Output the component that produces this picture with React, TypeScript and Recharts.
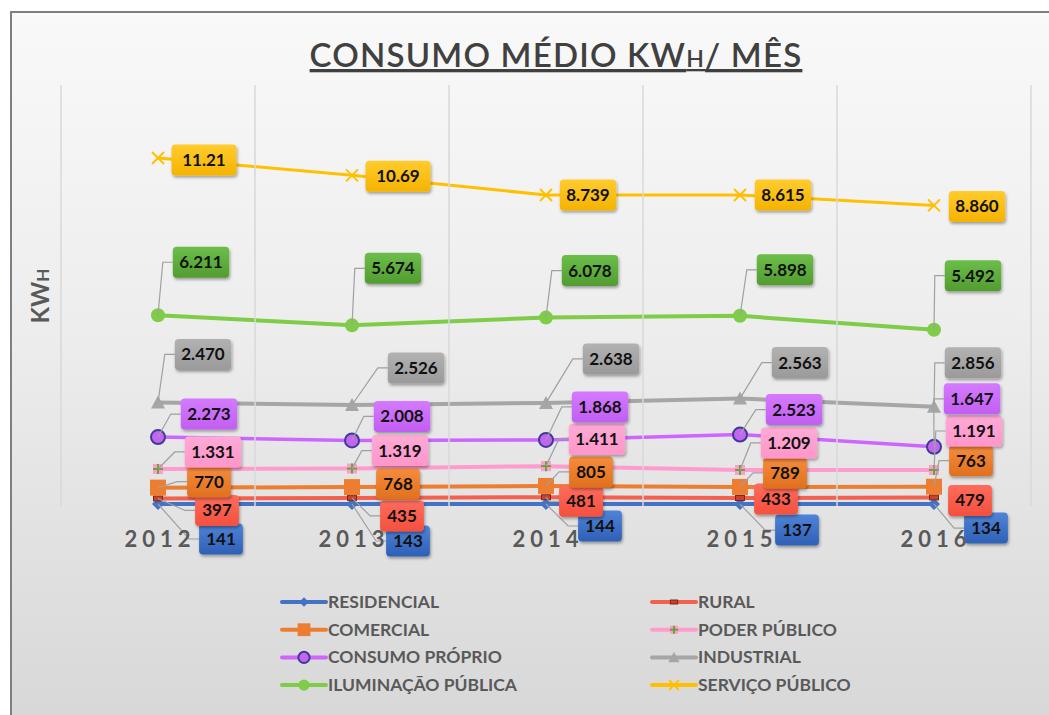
import React from 'react';
import { ComposedChart, Area, XAxis, YAxis, ReferenceLine } from 'recharts';

const years = ['2012', '2013', '2014', '2015', '2016'];
const residencial = [141, 143, 144, 137, 134];
const rural = [397, 435, 481, 433, 479];
const comercial = [770, 768, 805, 789, 763];
const poderPublico = [1331, 1319, 1411, 1209, 1191];
const consumoProprio = [2273, 2008, 1868, 2523, 1647];
const industrial = [2470, 2526, 2638, 2563, 2856];
const iluminacao = [6211, 5674, 6078, 5898, 5492];
const servico = [11210, 10690, 8739, 8615, 8860];

const W = 1049;
const H = 715;
const FONT = 'Lato, "Open Sans", sans-serif';

type Shape = 'diamond' | 'dash' | 'square' | 'plus' | 'ring' | 'triangle' | 'dot' | 'cross';

// stacking order, bottom to top (Excel stacked line)
const series: { key: string; name: string; values: number[] }[] = [
  { key: 'residencial', name: 'RESIDENCIAL', values: residencial },
  { key: 'rural', name: 'RURAL', values: rural },
  { key: 'comercial', name: 'COMERCIAL', values: comercial },
  { key: 'poder', name: 'PODER PÚBLICO', values: poderPublico },
  { key: 'consumo', name: 'CONSUMO PRÓPRIO', values: consumoProprio },
  { key: 'industrial', name: 'INDUSTRIAL', values: industrial },
  { key: 'iluminacao', name: 'ILUMINAÇÃO PÚBLICA', values: iluminacao },
  { key: 'servico', name: 'SERVIÇO PÚBLICO', values: servico },
];

const styles: Record<string, { line: string; width: number; shape: Shape; top: string; bottom: string }> = {
  residencial: { line: '#4472c4', width: 4, shape: 'diamond', top: '#4f84d8', bottom: '#2e60b6' },
  rural: { line: '#f4604e', width: 4, shape: 'dash', top: '#ff6c5c', bottom: '#f4503e' },
  comercial: { line: '#ed7d31', width: 4, shape: 'square', top: '#f68c3c', bottom: '#e0701e' },
  poder: { line: '#ff9ccd', width: 4, shape: 'plus', top: '#ffaad6', bottom: '#ff96c9' },
  consumo: { line: '#cc66ff', width: 3.5, shape: 'ring', top: '#d47aff', bottom: '#c25ef2' },
  industrial: { line: '#a6a6a6', width: 4, shape: 'triangle', top: '#b2b2b2', bottom: '#9a9a9a' },
  iluminacao: { line: '#7ecc48', width: 4, shape: 'dot', top: '#6cbe4a', bottom: '#529c30' },
  servico: { line: '#ffc000', width: 3, shape: 'cross', top: '#ffcc2e', bottom: '#f5b300' },
};

// label box centre, relative to its point (dx, dy) per year
const labelOffsets: Record<string, number[][]> = {
  residencial: [[63, 35], [56, 37], [54, 22], [57, 26], [52, 24]],
  rural: [[59, 12], [50, 18], [35, 4], [36, 1], [36, 3]],
  comercial: [[51, -6], [46, -3], [45, -14], [45, -14], [37, -26]],
  poder: [[55, -17], [48, -18], [51, -27], [49, -27], [40, -39]],
  consumo: [[51, -23], [50, -24], [54, -33], [54, -25], [38, -48]],
  industrial: [[45, -48], [64, -37], [65, -44], [60, -36], [39, -44]],
  iluminacao: [[43, -53], [41, -57], [44, -47], [45, -46], [39, -54]],
  servico: [[46, 2], [46, 1], [42, 0], [43, 0], [43, 1]],
};

const rows = years.map((year, i) => {
  const row: Record<string, number | string> = { idx: i, year };
  series.forEach((s) => (row[s.key] = s.values[i]));
  return row;
});

const fmt = (v: number) => {
  const s = String(v);
  return s.length > 3 ? s.slice(0, s.length - 3) + '.' + s.slice(-3) : s;
};

const textWidth = (s: string) => s.split('').reduce((w, c) => w + (c === '.' ? 4 : 8.6), 0);

const Marker = ({ shape, x, y, k = 1 }: { shape: Shape; x: number; y: number; k?: number }) => {
  switch (shape) {
    case 'diamond':
      return <polygon points={`${x},${y - 6 * k} ${x + 6 * k},${y} ${x},${y + 6 * k} ${x - 6 * k},${y}`} fill="#4472c4" />;
    case 'dash':
      return <rect x={x - 4.5 * k} y={y - 2.5 * k} width={9 * k} height={5 * k} fill="#c8402e" stroke="#7a2a14" strokeWidth={1} />;
    case 'square':
      return <rect x={x - 8 * k} y={y - 8 * k} width={16 * k} height={16 * k} fill="#ed7d31" />;
    case 'plus':
      return (
        <g>
          <rect x={x - 5 * k} y={y - 5 * k} width={10 * k} height={10 * k} fill="#ff9ccd" />
          <line x1={x - 5 * k} y1={y} x2={x + 5 * k} y2={y} stroke="#5aa52e" strokeWidth={1.8} />
          <line x1={x} y1={y - 5 * k} x2={x} y2={y + 5 * k} stroke="#5aa52e" strokeWidth={1.8} />
        </g>
      );
    case 'ring':
      return <circle cx={x} cy={y} r={7 * k} fill="#c266f0" stroke="#3c3c96" strokeWidth={2} />;
    case 'triangle':
      return <polygon points={`${x},${y - 7 * k} ${x + 7 * k},${y + 6 * k} ${x - 7 * k},${y + 6 * k}`} fill="#a6a6a6" />;
    case 'dot':
      return <circle cx={x} cy={y} r={7 * k} fill="#7ecc48" />;
    case 'cross':
      return (
        <g stroke="#ffc000" strokeWidth={2}>
          <line x1={x - 6 * k} y1={y - 6 * k} x2={x + 6 * k} y2={y + 6 * k} />
          <line x1={x - 6 * k} y1={y + 6 * k} x2={x + 6 * k} y2={y - 6 * k} />
        </g>
      );
  }
  return null;
};

const markerDot = (key: string) => (p: any) => (
  <g key={`m-${key}-${p.index}`}>
    {p.cx != null && p.cy != null ? <Marker shape={styles[key].shape} x={p.cx} y={p.cy} /> : null}
  </g>
);

const labelDot = (key: string, values: number[]) => (p: any) => {
  const { cx, cy, index } = p;
  if (cx == null || cy == null) return <g key={`l-${key}-${index}`} />;
  const full = fmt(values[index]);
  const shown = full.slice(0, 5); // Excel clips "11.210" to "11.21"
  const [dx, dy] = labelOffsets[key][index];
  const w = textWidth(full) + 18;
  const h = 31;
  const bx = cx + dx;
  const by = cy + dy;
  const left = bx - w / 2;
  return (
    <g key={`l-${key}-${index}`}>
      {Math.abs(dy) > 3 ? (
        <polyline
          points={`${cx},${cy} ${left - 10},${by} ${left},${by}`}
          fill="none"
          stroke="#a0a0a0"
          strokeWidth={1.2}
        />
      ) : null}
      <rect x={left} y={by - h / 2} width={w} height={h} rx={4} fill={`url(#box-${key})`} filter="url(#lblShadow)" />
      <text x={bx} y={by + 6} textAnchor="middle" fontFamily={FONT} fontWeight={700} fontSize={17} fill="#111">
        {shown}
      </text>
    </g>
  );
};

const YearTick = (p: any) => (
  <text
    x={p.x + 2}
    y={p.y + 41}
    textAnchor="middle"
    fontFamily={FONT}
    fontWeight={700}
    fontSize={22}
    letterSpacing={5}
    fill="#595959"
  >
    {years[p.payload.value]}
  </text>
);

const Legend = () => {
  const cols = [282, 652];
  return (
    <g>
      {series.map((s, i) => {
        const x0 = cols[i % 2];
        const y = 602 + Math.floor(i / 2) * 27.7;
        const st = styles[s.key];
        return (
          <g key={s.key}>
            <line x1={x0} y1={y} x2={x0 + 44} y2={y} stroke={st.line} strokeWidth={4} strokeLinecap="round" />
            <Marker shape={st.shape} x={x0 + 22} y={y} k={0.8} />
            <text x={x0 + 46} y={y + 6} fontFamily={FONT} fontWeight={700} fontSize={17.5} fill="#595959">
              {s.name}
            </text>
          </g>
        );
      })}
    </g>
  );
};

export default function App() {
  return (
    <div style={{ position: 'absolute', left: 0, top: 0, width: W, height: H, background: '#fff', overflow: 'hidden' }}>
      <div
        style={{
          position: 'absolute',
          left: 10,
          top: 11,
          width: W - 10,
          height: H - 11,
          boxSizing: 'border-box',
          borderTop: '2px solid #7f7f7f',
          borderLeft: '2px solid #7f7f7f',
          background: 'linear-gradient(#f9f9f9 0%, #ededed 45%, #d8d8d8 100%)',
        }}
      />
      <div style={{ position: 'absolute', left: 0, top: 0 }}>
        <ComposedChart width={W} height={H} data={rows} margin={{ top: 85, right: 18, bottom: 179, left: 61 }}>
          <defs>
            <filter id="lblShadow" x="-20%" y="-20%" width="150%" height="160%">
              <feDropShadow dx={1} dy={2} stdDeviation={1.5} floodColor="#000" floodOpacity={0.35} />
            </filter>
            {series.map((s) => (
              <linearGradient key={s.key} id={`box-${s.key}`} x1="0" y1="0" x2="0" y2="1">
                <stop offset="0%" stopColor={styles[s.key].top} />
                <stop offset="100%" stopColor={styles[s.key].bottom} />
              </linearGradient>
            ))}
          </defs>
          <XAxis
            type="number"
            dataKey="idx"
            domain={[-0.5, 4.5]}
            ticks={[0, 1, 2, 3, 4]}
            tick={<YearTick />}
            tickLine={false}
            axisLine={false}
            tickSize={0}
            tickMargin={0}
            height={30}
          />
          <YAxis type="number" domain={[0, 30000]} hide />
          {[-0.5, 0.5, 1.5, 2.5, 3.5, 4.5].map((x) => (
            <ReferenceLine key={x} x={x} stroke="#d9d9d9" strokeWidth={1.5} />
          ))}
          {series.map((s) => (
            <Area
              key={s.key}
              type="linear"
              dataKey={s.key}
              stackId="lines"
              stroke={styles[s.key].line}
              strokeWidth={styles[s.key].width}
              fill="none"
              dot={markerDot(s.key)}
              activeDot={false}
              isAnimationActive={false}
            />
          ))}
          {series.map((s) => (
            <Area
              key={`lab-${s.key}`}
              type="linear"
              dataKey={s.key}
              stackId="labels"
              stroke="none"
              fill="none"
              dot={labelDot(s.key, s.values)}
              activeDot={false}
              isAnimationActive={false}
            />
          ))}
        </ComposedChart>
      </div>
      <svg width={W} height={H} style={{ position: 'absolute', left: 0, top: 0, pointerEvents: 'none' }}>
        <text
          x={556}
          y={67}
          textAnchor="middle"
          fontFamily={FONT}
          fontWeight={600}
          fontSize={33}
          letterSpacing={1.2}
          fill="#404040"
          textDecoration="underline"
        >
          CONSUMO MÉDIO KW<tspan fontSize={23}>H</tspan>/ MÊS
        </text>
        <text
          transform="translate(49, 296) rotate(-90)"
          textAnchor="middle"
          fontFamily={FONT}
          fontWeight={700}
          fontSize={24}
          fill="#595959"
        >
          KW<tspan fontSize={17}>H</tspan>
        </text>
        <Legend />
      </svg>
    </div>
  );
}
